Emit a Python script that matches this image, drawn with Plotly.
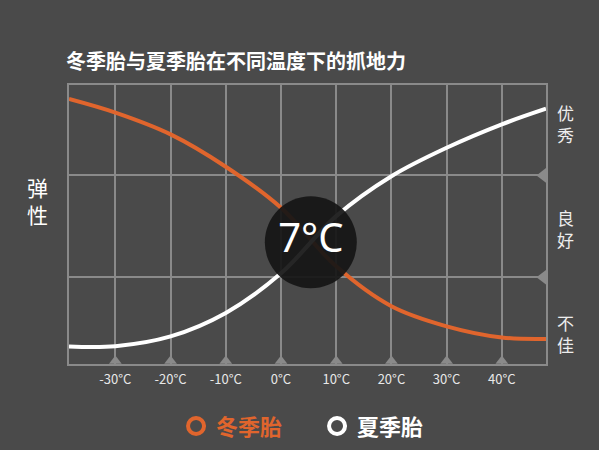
import plotly.graph_objects as go

# ---- data ----
temps = [-38.4, -30, -20, -10, 0, 10, 20, 30, 40, 48]
winter = [95.0, 90.1, 82.3, 70.7, 56.0, 35.0, 20.7, 13.5, 9.5, 9.0]
summer = [6.3, 6.4, 9.9, 18.3, 32.5, 53.0, 67.3, 77.5, 85.9, 91.5]
tick_temps = [-30, -20, -10, 0, 10, 20, 30, 40]
tick_text = ["-30°C", "-20°C", "-10°C", "0°C", "10°C", "20°C", "30°C", "40°C"]
level_lines = [31.1, 67.6]
level_labels = ["优<br>秀", "良<br>好", "不<br>佳"]
level_label_y = [86.3, 48.6, 10.9]
cross_temp = [5.4]
cross_val = [43.6]
cross_text = ["7°C"]
series_names = ["冬季胎", "夏季胎"]
title_text = "冬季胎与夏季胎在不同温度下的抓地力"
y_title = "弹<br>性"

X_RANGE = [-38.4, 48]
Y_RANGE = [0, 100]

BG = "#4a4a4a"
GRID = "#8a8a8a"
ORANGE = "#e0652d"
WHITE = "#ffffff"
FONT = "Noto Sans CJK SC"

fig = go.Figure()

# bottom triangles on the tick positions
fig.add_trace(go.Scatter(
    x=tick_temps, y=[1.1] * len(tick_temps), mode="markers",
    marker=dict(symbol="triangle-up", size=11, color=GRID, line=dict(width=0)),
    hoverinfo="skip", showlegend=False))
# right triangles at level lines
fig.add_trace(go.Scatter(
    x=[X_RANGE[1] - 0.55] * len(level_lines), y=level_lines, mode="markers",
    marker=dict(symbol="triangle-left", size=13, color=GRID, line=dict(width=0)),
    hoverinfo="skip", showlegend=False))

fig.add_trace(go.Scatter(
    x=temps, y=winter, mode="lines", line=dict(color=ORANGE, width=4, shape="spline", smoothing=1.0),
    showlegend=False, hoverinfo="skip"))
fig.add_trace(go.Scatter(
    x=temps, y=summer, mode="lines", line=dict(color=WHITE, width=4, shape="spline", smoothing=1.0),
    showlegend=False, hoverinfo="skip"))

# crossing circle
fig.add_trace(go.Scatter(
    x=cross_temp, y=cross_val, mode="markers+text", text=cross_text,
    textposition="middle center",
    textfont=dict(family="Noto Sans", size=40, color=WHITE),
    marker=dict(symbol="circle", size=92, color="rgba(22,22,22,0.93)", line=dict(width=0)),
    showlegend=False, hoverinfo="skip"))

# legend entries
fig.add_trace(go.Scatter(
    x=[None], y=[None], mode="markers",
    name='<b><span style="color:%s">%s</span></b>' % (ORANGE, series_names[0]),
    marker=dict(symbol="circle-open", size=16, color=ORANGE, line=dict(width=4, color=ORANGE))))
fig.add_trace(go.Scatter(
    x=[None], y=[None], mode="markers",
    name="<b>%s</b>" % series_names[1],
    marker=dict(symbol="circle-open", size=16, color=WHITE, line=dict(width=4, color=WHITE))))

annotations = []
for lab, yv in zip(level_labels, level_label_y):
    annotations.append(dict(
        text=lab, xref="paper", yref="y", x=1, y=yv, xanchor="center", yanchor="middle",
        xshift=19, showarrow=False, font=dict(family=FONT, size=17, color="#ededed")))
annotations.append(dict(
    text=y_title, xref="paper", yref="paper", x=-0.067, y=0.587, xanchor="center", yanchor="middle",
    showarrow=False, font=dict(family=FONT, size=21, color=WHITE)))

fig.update_layout(
    width=599, height=450, autosize=False,
    margin=dict(l=69, r=53, t=85, b=86, autoexpand=False),
    paper_bgcolor=BG, plot_bgcolor=BG,
    title=dict(text="<b>%s</b>" % title_text, x=66 / 599, xanchor="left",
               y=1 - 62 / 450, yanchor="middle",
               font=dict(family=FONT, size=20, color=WHITE)),
    xaxis=dict(range=X_RANGE, tickvals=tick_temps, ticktext=tick_text,
               showgrid=True, gridcolor=GRID, gridwidth=1.5, zeroline=False,
               showline=True, linecolor=GRID, linewidth=1.5, mirror=True,
               ticks="", ticklabelstandoff=3,
               tickfont=dict(family=FONT, size=13, color="#e8e8e8"), fixedrange=True),
    yaxis=dict(range=Y_RANGE, tickvals=level_lines, showticklabels=False,
               showgrid=True, gridcolor=GRID, gridwidth=1.5, zeroline=False,
               showline=True, linecolor=GRID, linewidth=1.5, mirror=True,
               ticks="", fixedrange=True),
    legend=dict(orientation="h", x=0.52, xanchor="center", y=-0.223, yanchor="middle",
                font=dict(family=FONT, size=22, color=WHITE),
                bgcolor="rgba(0,0,0,0)", entrywidth=96, entrywidthmode="pixels",
                itemclick=False, itemdoubleclick=False),
    annotations=annotations,
    showlegend=True,
)

fig.write_html("out.html",
               config={"responsive": False, "displayModeBar": False},
               post_script="document.body.style.margin='0';document.body.style.overflow='hidden';"
                           "document.body.style.background='%s';" % BG)
